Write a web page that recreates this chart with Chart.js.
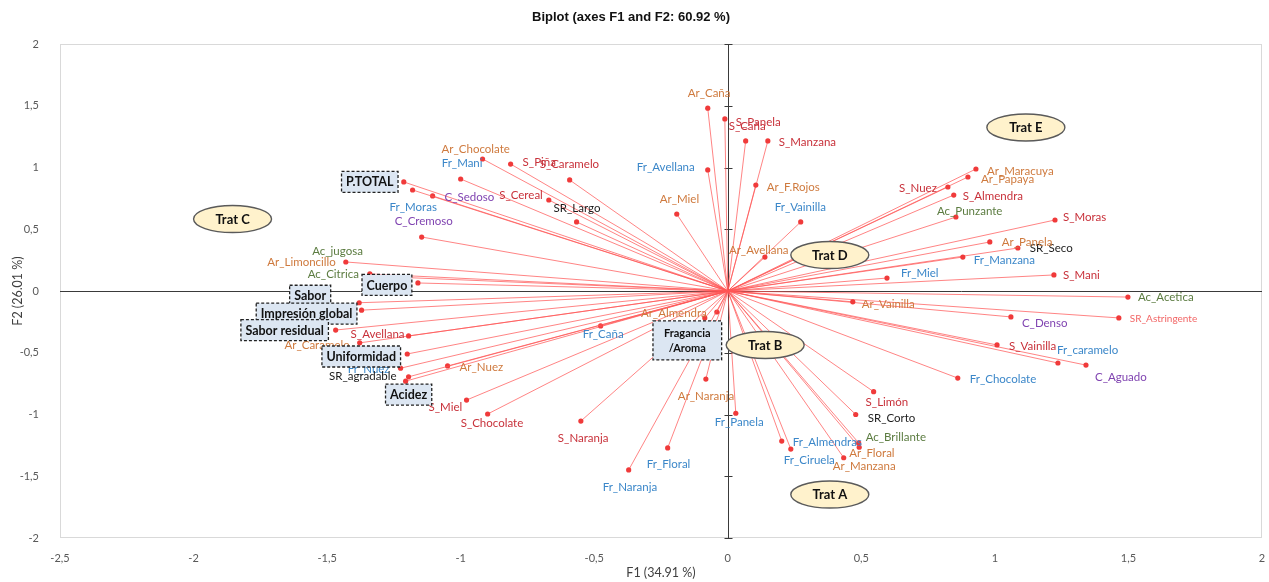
<!DOCTYPE html>
<html><head><meta charset="utf-8">
<script src="https://cdn.jsdelivr.net/npm/chart.js@4.4.0/dist/chart.umd.min.js"></script>
<style>html,body{margin:0;padding:0;background:#fff;}</style>
</head><body>
<canvas id="c" width="1269" height="582" style="width:1269px;height:582px;display:block"></canvas>
<script>
// ---- data ----
const varNames = ['P.TOTAL','Fr_Moras','C_Sedoso','C_Cremoso','Ar_Limoncillo','Ac_jugosa','Ac_Citrica','Cuerpo','Sabor','Impresión global','Sabor residual','S_Avellana','Ar_Caramelo','Uniformidad','Fr_Nuez','SR_agradable','Acidez','Ar_Nuez','S_Miel','S_Chocolate','S_Naranja','Fr_Naranja','Fr_Floral','Ar_Naranja','Fr_Panela','Fr_Caña','Ar_Almendra','Fragancia/Aroma','Ar_Vainilla','S_Limón','SR_Corto','Ac_Brillante','Ar_Floral','Fr_Almendras','Fr_Ciruela','Ar_Manzana','Fr_Chocolate','S_Vainilla','Fr_caramelo','C_Aguado','C_Denso','SR_Astringente','Ac_Acetica','S_Mani','Fr_Miel','Fr_Manzana','SR_Seco','Ar_Panela','S_Moras','Ac_Punzante','S_Almendra','S_Nuez','Ar_Papaya','Ar_Maracuya','Ar_Avellana','Fr_Vainilla','Ar_F.Rojos','S_Manzana','S_Caña','S_Panela','Ar_Caña','Fr_Avellana','Ar_Miel','SR_Largo','S_Cereal','S_Caramelo','S_Piña','Ar_Chocolate','Fr_Mani'];
const varX = [-1.213,-1.18,-1.105,-1.146,-1.43,-1.25,-1.34,-1.16,-1.38,-1.371,-1.468,-1.195,-1.378,-1.2,-1.225,-1.195,-1.206,-1.049,-0.978,-0.899,-0.55,-0.371,-0.225,-0.082,0.03,-0.476,-0.041,-0.086,0.468,0.546,0.479,0.49,0.492,0.202,0.236,0.434,0.861,1.008,1.236,1.341,1.06,1.464,1.498,1.221,0.596,0.88,1.086,0.981,1.225,0.854,0.846,0.824,0.899,0.929,0.139,0.273,0.105,0.15,0.067,-0.011,-0.075,-0.075,-0.191,-0.566,-0.67,-0.592,-0.813,-0.918,-1.0];
const varY = [0.883,0.818,0.77,0.437,0.235,0.113,0.138,0.065,-0.095,-0.155,-0.316,-0.364,-0.42,-0.51,-0.625,-0.695,-0.73,-0.607,-0.883,-0.996,-1.053,-1.449,-1.271,-0.713,-0.99,-0.283,-0.17,-0.218,-0.088,-0.815,-1.0,-1.23,-1.265,-1.215,-1.28,-1.35,-0.705,-0.437,-0.583,-0.6,-0.21,-0.218,-0.049,0.13,0.105,0.275,0.348,0.397,0.575,0.599,0.777,0.842,0.923,0.988,0.275,0.559,0.858,1.215,1.215,1.393,1.48,0.98,0.623,0.559,0.737,0.899,1.028,1.069,0.907];
const treatNames = ['Trat A','Trat B','Trat C','Trat D','Trat E'];
const treatX = [0.382,0.14,-1.854,0.382,1.116];
const treatY = [-1.648,-0.437,0.583,0.291,1.324];
const xTicks = [-2.5,-2,-1.5,-1,-0.5,0,0.5,1,1.5,2];
const yTicks = [-2,-1.5,-1,-0.5,0,0.5,1,1.5,2];
const boxVars = ['P.TOTAL','Cuerpo','Sabor','Impresión global','Sabor residual','Uniformidad','Acidez','Fragancia/Aroma'];

// ---- label layout (pixel offsets from the point) ----
const labelOffset = {
 'P.TOTAL':[-34,0],'Fr_Moras':[-23,17],'C_Sedoso':[12,1],'C_Cremoso':[-27,-16],
 'Ar_Limoncillo':[-10,0,'right'],'Ac_jugosa':[-31,-26,'right'],'Ac_Citrica':[-11,0,'right'],
 'Cuerpo':[-31,2],'Sabor':[-49,-7],'Impresión global':[-55,3.5],'Sabor residual':[-51,0],
 'S_Avellana':[-4,-2,'right'],'Ar_Caramelo':[-10,2,'right'],'Uniformidad':[-46,2.5],
 'Fr_Nuez':[-11,1,'right'],'SR_agradable':[-12,-1,'right'],'Acidez':[3,13.5],
 'Ar_Nuez':[12,1],'S_Miel':[-38,7],'S_Chocolate':[-27,9],'S_Naranja':[-23,17],
 'Fr_Naranja':[-26,17],'Fr_Floral':[-21,16],'Ar_Naranja':[-28,17],'Fr_Panela':[-21,9],
 'Fr_Caña':[-18,8],'Ar_Almendra':[-10,1,'right'],'Fragancia/Aroma':[-17.5,22.5],
 'Ar_Vainilla':[9,2],'S_Limón':[-8,11],'SR_Corto':[12,4],'Ac_Brillante':[7,-6],
 'Ar_Floral':[-10,6],'Fr_Almendras':[11,1],'Fr_Ciruela':[-7,11],'Ar_Manzana':[-11,9],
 'Fr_Chocolate':[12,1],'S_Vainilla':[12,1],'Fr_caramelo':[-1,-13],'C_Aguado':[9,12],
 'C_Denso':[11,6],'SR_Astringente':[11,1],'Ac_Acetica':[10,0],'S_Mani':[9,0],
 'Fr_Miel':[14,-5],'Fr_Manzana':[11,3],'SR_Seco':[12,0],'Ar_Panela':[12,0],
 'S_Moras':[8,-3],'Ac_Punzante':[-19,-6],'S_Almendra':[9,1],'S_Nuez':[-11,1,'right'],
 'Ar_Papaya':[13,2],'Ar_Maracuya':[11,2],'Ar_Avellana':[-36,-7],'Fr_Vainilla':[-26,-15],
 'Ar_F.Rojos':[11,2],'S_Manzana':[11,1],'S_Caña':[-17,-15],'S_Panela':[11,3],
 'Ar_Caña':[-20,-15],'Fr_Avellana':[-13,-3,'right'],'Ar_Miel':[-17,-15],'SR_Largo':[-23,-14],
 'S_Cereal':[-6,-5,'right'],'S_Caramelo':[-30,-16],'S_Piña':[12,-2],'Ar_Chocolate':[-41,-10],
 'Fr_Mani':[-19,-16]
};

function labelColor(n){
  if(n==='SR_Astringente') return '#F26666';
  if(n.startsWith('Ar_')) return '#CF7A3E';
  if(n.startsWith('Fr_')) return '#3B87C9';
  if(n.startsWith('S_')) return '#C8313A';
  if(n.startsWith('C_')) return '#8044B1';
  if(n.startsWith('Ac_')) return '#5C7C41';
  return '#1c1c1c';
}
const fmt = v => String(v).replace('.', ',');

const frameAndAxes = {
  id:'frameAndAxes',
  beforeDatasetsDraw(chart){
    const {ctx, chartArea:a, scales:{x,y}} = chart;
    ctx.save();
    ctx.strokeStyle='#D9D9D9'; ctx.lineWidth=1;
    ctx.strokeRect(a.left+0.5,a.top+0.5,a.width-1,a.height-1);
    const x0=Math.round(x.getPixelForValue(0))+0.5, y0=Math.round(y.getPixelForValue(0))+0.5;
    ctx.strokeStyle='#3a3a3a';
    ctx.beginPath();
    ctx.moveTo(a.left,y0); ctx.lineTo(a.right,y0);
    ctx.moveTo(x0,a.top); ctx.lineTo(x0,a.bottom);
    yTicks.forEach(v=>{const p=Math.round(y.getPixelForValue(v))+0.5; ctx.moveTo(x0-4,p); ctx.lineTo(x0+4,p);});
    ctx.stroke();
    ctx.restore();
  }
};

const annotations = {
  id:'annotations',
  afterDatasetsDraw(chart){
    const {ctx, scales:{x,y}} = chart;
    ctx.save();
    ctx.textBaseline='middle';
    varNames.forEach((n,i)=>{
      if(boxVars.includes(n)) return;
      const px=x.getPixelForValue(varX[i]), py=y.getPixelForValue(varY[i]);
      const o=labelOffset[n]||[6,0];
      ctx.font = n==='SR_Astringente' ? '10px Lato' : '11.5px Lato';
      ctx.fillStyle=labelColor(n);
      ctx.textAlign=o[2]||'left';
      ctx.fillText(n, px+o[0], py+o[1]);
    });
    varNames.forEach((n,i)=>{
      if(!boxVars.includes(n)) return;
      const px=x.getPixelForValue(varX[i]), py=y.getPixelForValue(varY[i]);
      const o=labelOffset[n];
      const cx=px+o[0], cy=py+o[1];
      const frag = n==='Fragancia/Aroma';
      const lines = frag ? ['Fragancia','/Aroma'] : [n];
      ctx.font = frag ? 'bold 11px Lato' : 'bold 12.5px Lato';
      const lh = 15;
      const w = Math.max(...lines.map(t=>ctx.measureText(t).width)) + (frag?22:9);
      const h = frag ? 39 : 21;
      ctx.fillStyle='#DCE6F2';
      ctx.fillRect(cx-w/2, cy-h/2, w, h);
      ctx.setLineDash([3,2]); ctx.strokeStyle='#222'; ctx.lineWidth=1.3;
      ctx.strokeRect(cx-w/2, cy-h/2, w, h);
      ctx.setLineDash([]);
      ctx.fillStyle='#111'; ctx.textAlign='center';
      lines.forEach((t,k)=>ctx.fillText(t, cx, cy + (k-(lines.length-1)/2)*lh + 0.5));
    });
    treatNames.forEach((n,i)=>{
      const cx=x.getPixelForValue(treatX[i]), cy=y.getPixelForValue(treatY[i]);
      ctx.beginPath();
      ctx.ellipse(cx, cy, 39, 13.5, 0, 0, Math.PI*2);
      ctx.fillStyle='#FFF2CC'; ctx.fill();
      ctx.strokeStyle='#5a5a5a'; ctx.lineWidth=1.4; ctx.stroke();
      ctx.fillStyle='#111'; ctx.font='bold 13px Lato'; ctx.textAlign='center';
      ctx.fillText(n, cx, cy+0.5);
    });
    ctx.restore();
  }
};

const datasets = varNames.map((n,i)=>({
  label:n,
  data:[{x:0,y:0},{x:varX[i],y:varY[i]}],
  showLine:true,
  borderColor:'rgba(255,85,85,0.72)',
  borderWidth:1,
  pointRadius:[0,2.6],
  pointHoverRadius:0,
  pointBackgroundColor:'#F03A3A',
  pointBorderWidth:0
}));

new Chart(document.getElementById('c'), {
  type:'scatter',
  data:{datasets},
  options:{
    responsive:false, animation:false, devicePixelRatio:1,
    layout:{padding:{left:0,right:7,top:0,bottom:0}},
    plugins:{
      legend:{display:false}, tooltip:{enabled:false},
      title:{display:true, text:'Biplot (axes F1 and F2: 60.92 %)', color:'#111',
        font:{family:'Liberation Sans', size:13, weight:'bold'}, padding:{top:10,bottom:18.4}}
    },
    scales:{
      x:{type:'linear', min:-2.5, max:2,
        grid:{display:false}, border:{display:false},
        afterBuildTicks:s=>{s.ticks=xTicks.map(v=>({value:v}));},
        afterFit:s=>{s.height=44; s.paddingRight=0; s.paddingLeft=0;},
        ticks:{callback:v=>fmt(v), color:'#595959', font:{family:'Lato', size:11}, padding:6, maxRotation:0, autoSkip:false},
        title:{display:true, text:'F1 (34.91 %)', color:'#404040', font:{family:'Lato', size:12.5}, padding:{top:0,bottom:2}}
      },
      y:{type:'linear', min:-2, max:2,
        grid:{display:false}, border:{display:false},
        afterBuildTicks:s=>{s.ticks=yTicks.map(v=>({value:v}));},
        afterFit:s=>{s.width=60;},
        ticks:{callback:v=>fmt(v), color:'#595959', font:{family:'Lato', size:11}, padding:13, autoSkip:false},
        title:{display:true, text:'F2 (26.01 %)', color:'#404040', font:{family:'Lato', size:12.5}, padding:{top:10,bottom:0}}
      }
    }
  },
  plugins:[frameAndAxes, annotations]
});
</script>
</body></html>
